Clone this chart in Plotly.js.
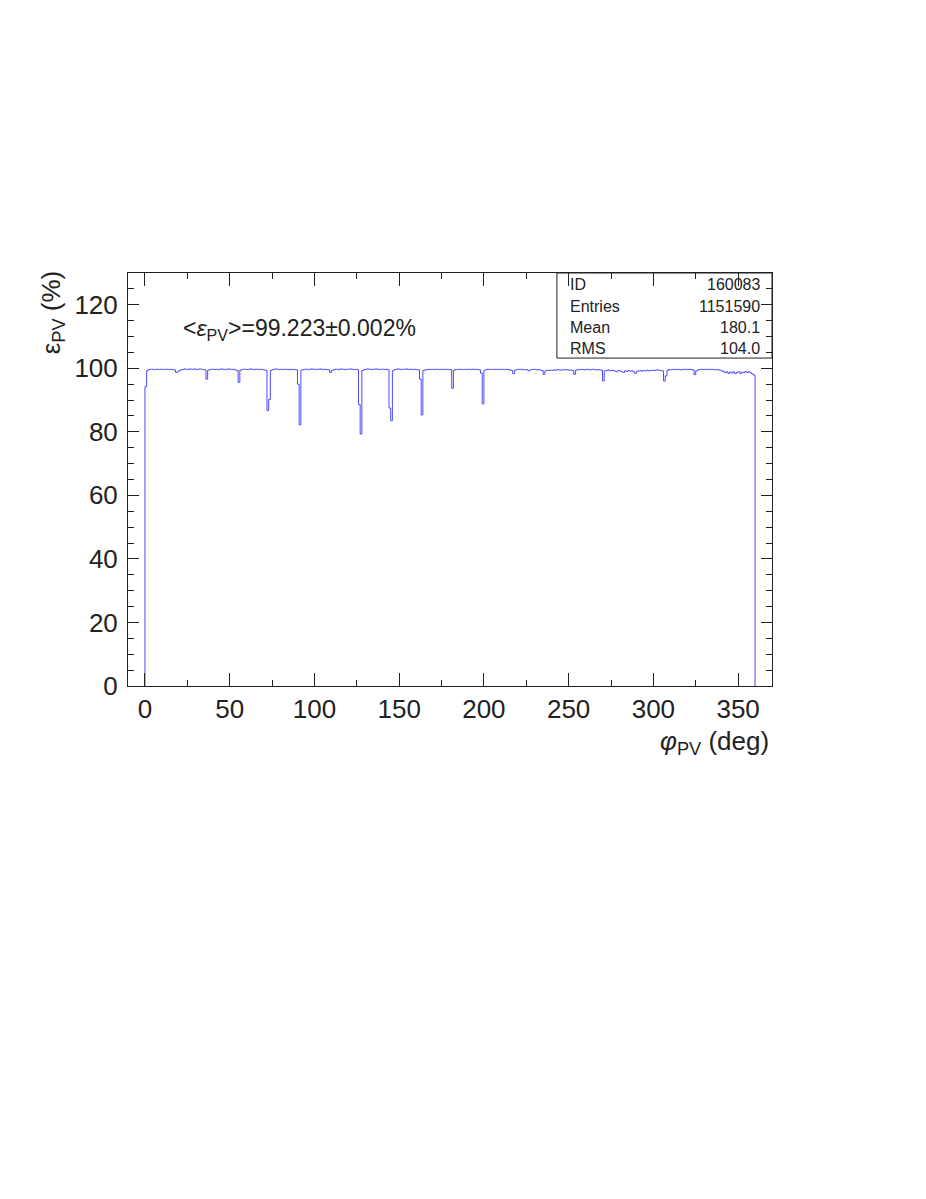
<!DOCTYPE html>
<html>
<head>
<meta charset="utf-8">
<script src="https://cdn.plot.ly/plotly-3.0.1.min.js"></script>
<style>
  html, body { margin: 0; padding: 0; background: #fff; }
  #plot { width: 926px; height: 1199px; }
</style>
</head>
<body>
<div id="plot"></div>
<script>
// efficiency per 1 deg bin of phi_PV (bin i covers [i, i+1))
const effBins = [
  94.2, 99.3, 99.6, 99.7, 99.7, 99.6, 99.7, 99.7, 99.6, 99.7, 99.7, 99.6, 99.7, 99.7, 99.6, 99.7, 99.6, 99.5, 98.7, 98.9,
  99.3, 99.5, 99.6, 99.8, 99.7, 99.6, 99.8, 99.7, 99.7, 99.8, 99.6, 99.7, 99.8, 99.7, 99.6, 99.5, 96.6, 99.4, 99.6, 99.7,
  99.7, 99.6, 99.7, 99.6, 99.7, 99.8, 99.7, 99.6, 99.7, 99.8, 99.7, 99.6, 99.7, 99.5, 99.3, 95.6, 99.4, 99.6, 99.7, 99.7,
  99.6, 99.7, 99.8, 99.7, 99.6, 99.7, 99.7, 99.6, 99.7, 99.6, 99.5, 99.4, 86.7, 90.2, 99.3, 99.6, 99.7, 99.8, 99.7, 99.6,
  99.7, 99.6, 99.7, 99.7, 99.6, 99.7, 99.6, 99.7, 99.6, 99.5, 95.0, 82.2, 99.4, 99.6, 99.7, 99.7, 99.6, 99.7, 99.8, 99.7,
  99.7, 99.6, 99.7, 99.8, 99.7, 99.6, 99.7, 99.6, 99.5, 98.7, 99.3, 99.6, 99.7, 99.7, 99.6, 99.8, 99.7, 99.7, 99.6, 99.7,
  99.7, 99.8, 99.7, 99.6, 99.7, 99.6, 88.6, 79.3, 99.3, 99.6, 99.7, 99.8, 99.7, 99.7, 99.6, 99.7, 99.8, 99.7, 99.6, 99.7,
  99.7, 99.6, 99.7, 99.6, 87.5, 83.5, 99.2, 99.6, 99.7, 99.8, 99.7, 99.6, 99.7, 99.7, 99.8, 99.6, 99.7, 99.7, 99.6, 99.7,
  99.6, 99.5, 96.6, 85.3, 99.3, 99.5, 99.6, 99.7, 99.6, 99.7, 99.6, 99.7, 99.7, 99.6, 99.7, 99.6, 99.7, 99.6, 99.7, 99.6,
  99.6, 93.7, 99.4, 99.7, 99.6, 99.7, 99.7, 99.6, 99.7, 99.6, 99.7, 99.7, 99.6, 99.7, 99.6, 99.7, 99.6, 99.5, 98.5, 88.8,
  99.4, 99.6, 99.7, 99.6, 99.7, 99.6, 99.7, 99.7, 99.6, 99.7, 99.6, 99.7, 99.6, 99.7, 99.6, 99.5, 99.3, 98.3, 99.4, 99.6,
  99.7, 99.6, 99.7, 99.6, 99.5, 99.6, 99.2, 99.5, 99.6, 99.7, 99.6, 99.5, 99.6, 99.4, 99.3, 98.1, 99.2, 99.4, 99.3, 99.4,
  99.3, 99.5, 99.4, 99.6, 99.5, 99.4, 99.6, 99.5, 99.6, 99.5, 99.4, 99.5, 99.3, 98.1, 99.4, 99.6, 99.5, 99.7, 99.6, 99.5,
  99.6, 99.7, 99.5, 99.6, 99.7, 99.6, 99.5, 99.6, 99.5, 99.4, 96.0, 99.2, 99.3, 99.5, 99.2, 99.4, 99.3, 99.1, 98.9, 99.3,
  99.2, 98.9, 98.7, 99.2, 99.0, 99.3, 99.1, 99.2, 98.9, 98.4, 99.0, 99.2, 99.3, 99.1, 99.3, 99.2, 99.4, 99.2, 99.3, 99.4,
  99.3, 99.4, 99.5, 99.4, 99.3, 99.2, 96.0, 97.6, 99.3, 99.6, 99.5, 99.6, 99.7, 99.6, 99.7, 99.6, 99.5, 99.7, 99.6, 99.7,
  99.6, 99.7, 99.6, 99.5, 98.0, 99.2, 99.5, 99.6, 99.7, 99.6, 99.7, 99.6, 99.7, 99.6, 99.7, 99.6, 99.5, 99.6, 99.5, 99.4,
  99.2, 99.0, 98.6, 98.9, 98.4, 98.8, 98.5, 98.9, 98.3, 98.7, 98.9, 98.4, 98.8, 98.6, 99.0, 98.7, 98.9, 98.6, 98.2, 97.9
];
const binLow = 0;      // deg
const binWidth = 1;    // deg

const statsLabels = ['ID', 'Entries', 'Mean', 'RMS'];
const statsValues = ['160083', '1151590', '180.1', '104.0'];
const meanText = '&lt;<i>ε</i><sub>PV</sub>&gt;=99.223±0.002%';

// histogram outline: rise from 0 at the first edge, fall back to 0 at the last edge
const xs = [binLow];
const ys = [0];
effBins.forEach((v, i) => { xs.push(binLow + i * binWidth); ys.push(v); });
xs.push(binLow + effBins.length * binWidth); ys.push(effBins[effBins.length - 1]);
xs.push(binLow + effBins.length * binWidth); ys.push(0);

const font = { family: 'Liberation Sans, Arial, sans-serif', color: '#222' };

const traces = [{
    x: xs,
    y: ys,
    mode: 'lines',
    line: { shape: 'hv', width: 1, color: '#4b4bff' },
    showlegend: false,
    hoverinfo: 'skip',
}];

const statsY = [0.971, 0.920, 0.869, 0.816];
const annotations = [];
statsLabels.forEach((lab, i) => {
    annotations.push({ text: lab, xref: 'paper', yref: 'paper', x: 0.683, y: statsY[i],
        xanchor: 'left', yanchor: 'middle', showarrow: false, font: { ...font, size: 16 } });
    annotations.push({ text: statsValues[i], xref: 'paper', yref: 'paper', x: 0.984, y: statsY[i],
        xanchor: 'right', yanchor: 'middle', showarrow: false, font: { ...font, size: 16 } });
});
annotations.push({ text: meanText, xref: 'paper', yref: 'paper', x: 0.083, y: 0.862,
    xanchor: 'left', yanchor: 'middle', showarrow: false, font: { ...font, size: 23 } });
annotations.push({ text: 'ε<sub>PV</sub> (%)', xref: 'paper', yref: 'paper', x: -0.118, y: 0.905,
    xanchor: 'center', yanchor: 'middle', textangle: -90, showarrow: false, font: { ...font, size: 26 } });
annotations.push({ text: '<i>φ</i><sub>PV</sub> (deg)', xref: 'paper', yref: 'paper', x: 0.998, y: -0.136,
    xanchor: 'right', yanchor: 'middle', showarrow: false, font: { ...font, size: 26 } });

Plotly.newPlot('plot', traces, {
    width: 926,
    height: 1199,
    margin: { l: 128, r: 154, t: 273, b: 513 },
    paper_bgcolor: '#fff',
    plot_bgcolor: '#fff',
    font: font,
    xaxis: {
        range: [-10, 370],
        tickvals: [0, 50, 100, 150, 200, 250, 300, 350],
        ticks: 'inside',
        ticklen: 13,
        tickcolor: '#222',
        tickfont: { ...font, size: 26 },
        minor: { dtick: 25, tick0: 0, ticks: 'inside', ticklen: 6, tickcolor: '#222' },
        showline: true,
        linecolor: '#222',
        linewidth: 1,
        mirror: 'ticks',
        showgrid: false,
        zeroline: false,
        fixedrange: true,
    },
    yaxis: {
        range: [0, 130],
        tickvals: [0, 20, 40, 60, 80, 100, 120],
        ticks: 'inside',
        ticklen: 11,
        tickcolor: '#222',
        tickfont: { ...font, size: 26 },
        ticklabelstandoff: 4,
        minor: { dtick: 5, tick0: 0, ticks: 'inside', ticklen: 6, tickcolor: '#222' },
        showline: true,
        linecolor: '#222',
        linewidth: 1,
        mirror: 'ticks',
        showgrid: false,
        zeroline: false,
        fixedrange: true,
    },
    shapes: [{
        type: 'rect', xref: 'paper', yref: 'paper',
        x0: 0.666, x1: 1, y0: 0.794, y1: 1,
        line: { color: '#222', width: 1 }, fillcolor: 'rgba(0,0,0,0)', layer: 'above',
    }],
    annotations: annotations,
}, { staticPlot: true, displayModeBar: false });
</script>
</body>
</html>
